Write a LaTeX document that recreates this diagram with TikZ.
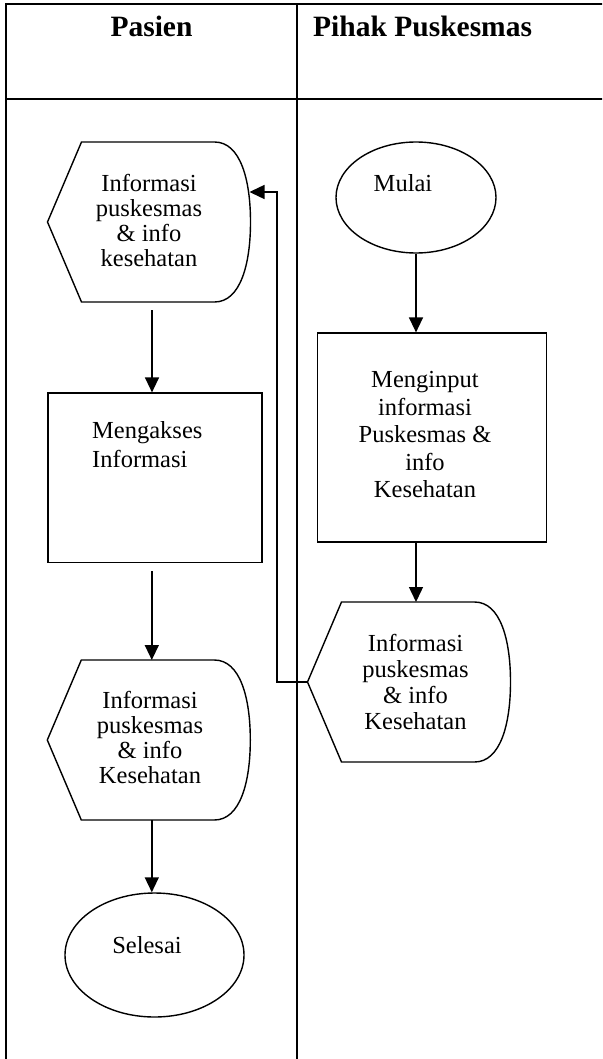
\documentclass[tikz,border=0pt]{standalone}
\usepackage{fontspec}
\setmainfont{Liberation Serif}
\usetikzlibrary{arrows.meta,shapes.geometric}
\begin{document}
\begin{tikzpicture}[x=1pt,y=-1pt,
  frame/.style={line width=2pt},
  sline/.style={line width=1.4pt},
  arr/.style={line width=1.4pt,-{Triangle[width=14pt,length=15pt]}},
  txt/.style={font=\fontsize{24.5}{25}\selectfont, align=center, inner sep=0pt},
  hdr/.style={font=\fontsize{29.5}{32}\selectfont\bfseries, inner sep=0pt},
  disp/.pic={
    \draw[sline] (0,0) -- (34,-80) -- (167,-80) .. controls (193,-80) and (203,-42) .. (203,0)
      .. controls (203,42) and (193,80) .. (167,80) -- (34,80) -- cycle;
    \coordinate (-L) at (0,0);
    \coordinate (-B) at (104.5,80);
    \coordinate (-T) at (104.5,-80);
    \coordinate (-in) at (202,-30);
  }]
\useasboundingbox (0,0) rectangle (602,1059);
\clip (0,0) rectangle (602,1059);

% table frame
\draw[frame] (5.5,1070) -- (5.5,4) -- (620,4);
\draw[frame] (5.5,99) -- (620,99);
\draw[frame] (297,4) -- (297,1070);

% headers
\node[hdr, anchor=base] (h1) at (151.5,36.5) {Pasien};
\node[hdr, anchor=base west] (h2) at (313,36.5) {Pihak Puskesmas};

% Pasien lane
\pic (d1) at (47.5,222) {disp};
\node[txt] (d1t) at (149,220) {Informasi\\puskesmas\\\& info\\kesehatan};

\node[draw, sline, minimum width=214pt, minimum height=169.6pt, inner sep=0pt, anchor=north west] (m1) at (47.4,392.4) {};
\node[txt, align=left, anchor=north west, font=\fontsize{24.5}{29}\selectfont] (m1t) at (92,421) {Mengakses\\Informasi};

\pic (d2) at (47.3,740) {disp};
\node[txt] (d2t) at (150,737) {Informasi\\puskesmas\\\& info\\Kesehatan};

\node[draw, sline, ellipse, minimum width=179pt, minimum height=124pt, inner sep=0pt] (sel) at (154.5,955) {};
\node[txt] (selt) at (147,945.6) {Selesai};

% Puskesmas lane
\node[draw, sline, ellipse, minimum width=160pt, minimum height=111pt, inner sep=0pt] (mul) at (416,197.5) {};
\node[txt] (mult) at (403,182.7) {Mulai};

\node[draw, sline, minimum width=229pt, minimum height=209pt, inner sep=0pt, anchor=north east] (m2) at (547,332.4) {};
\node[txt, font=\fontsize{24.5}{27.5}\selectfont] (m2t) at (425,435) {Menginput\\informasi\\Puskesmas \&\\info\\Kesehatan};

\pic (d3) at (307.5,682) {disp};
\node[txt, font=\fontsize{24.5}{26}\selectfont] (d3t) at (415.5,682) {Informasi\\puskesmas\\\& info\\Kesehatan};

% connectors
\draw[arr, shorten <=8pt] (d1-B) -- (d1-B |- m1.north);
\draw[arr, shorten <=8pt] (d2-T |- m1.south) -- (d2-T);
\draw[arr] (d2-B) -- (d2-B |- sel.north);
\draw[arr] (mul.south) -- (mul.south |- m2.north);
\draw[arr] (m2.south -| mul.south) -- (mul.south |- d3-T);
\draw[arr] (d3-L) -- ++(-30.5,0) |- (d1-in);
\end{tikzpicture}
\end{document}
